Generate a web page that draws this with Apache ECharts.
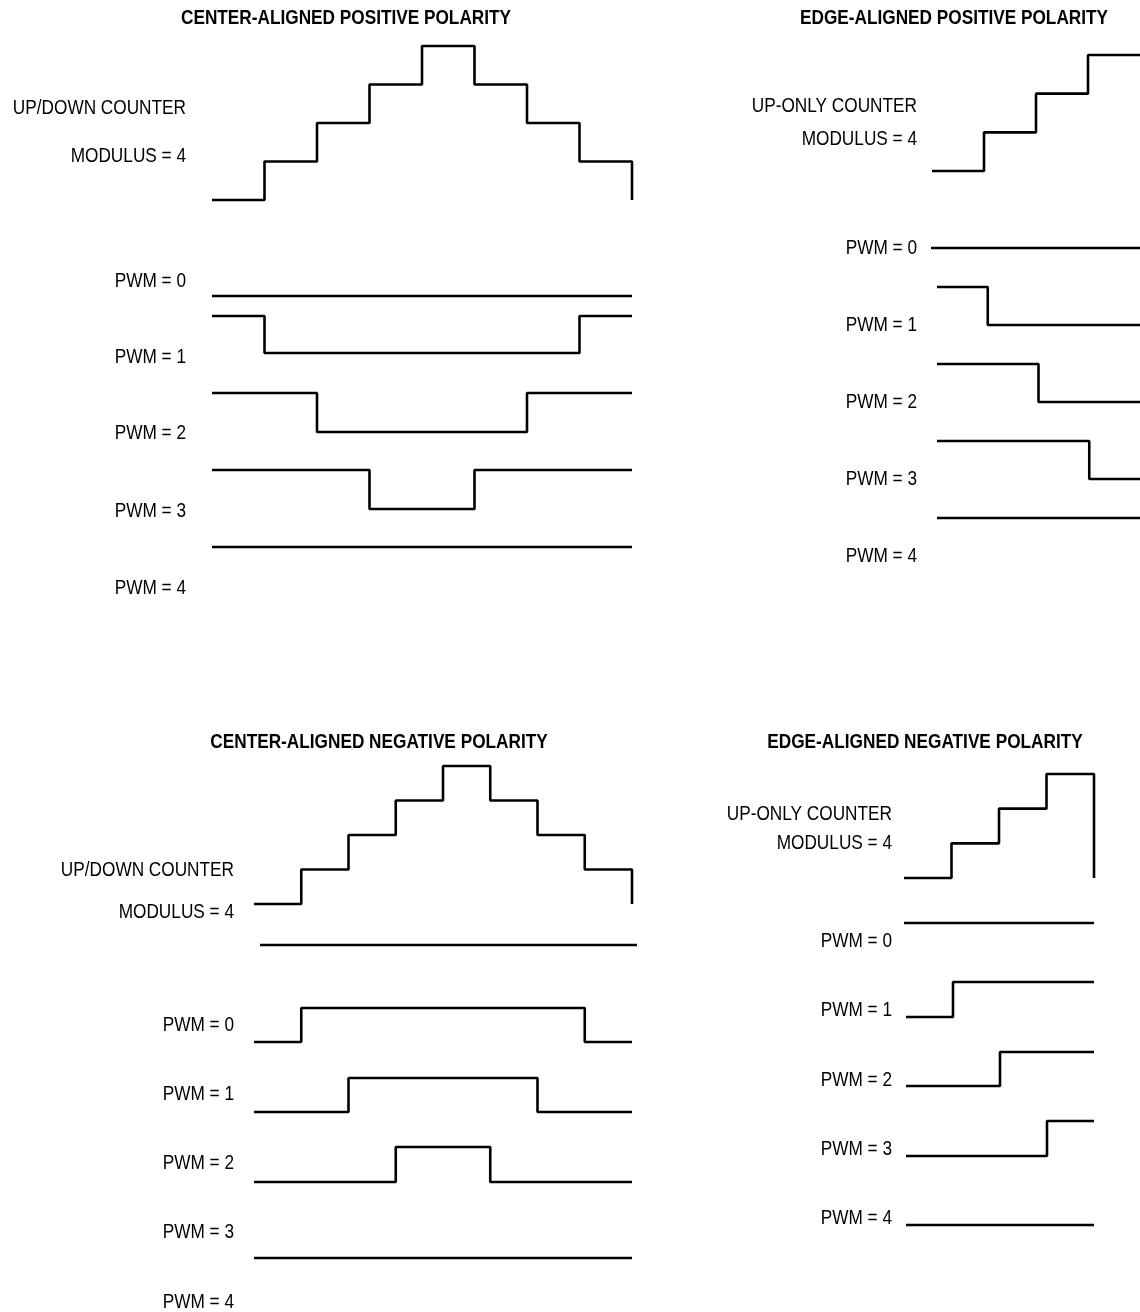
<!DOCTYPE html>
<html>
<head>
<meta charset="utf-8">
<script src="https://cdn.jsdelivr.net/npm/echarts@6/dist/echarts.min.js"></script>
<style>
  html, body { margin: 0; padding: 0; background: #fff; }
  #chart { width: 1140px; height: 1312px; }
</style>
</head>
<body>
<div id="chart"></div>
<script>
// counter level at each slot boundary (last entry = level after the final edge)
var counterCenter = [0, 1, 2, 3, 4, 3, 2, 1, 0];
var counterEdgeUp = [0, 1, 2, 3, 3];
var counterEdgeDown = [0, 1, 2, 3, 0];

// PWM outputs per slot, 1 = high, 0 = low
var centerPositive = [
  [0, 0, 0, 0, 0, 0, 0, 0, 0],
  [1, 0, 0, 0, 0, 0, 0, 1, 1],
  [1, 1, 0, 0, 0, 0, 1, 1, 1],
  [1, 1, 1, 0, 0, 1, 1, 1, 1],
  [1, 1, 1, 1, 1, 1, 1, 1, 1]
];
var edgePositive = [
  [0, 0, 0, 0, 0],
  [1, 0, 0, 0, 0],
  [1, 1, 0, 0, 0],
  [1, 1, 1, 0, 0],
  [1, 1, 1, 1, 1]
];
var centerNegative = [
  [1, 1, 1, 1, 1, 1, 1, 1, 1],
  [0, 1, 1, 1, 1, 1, 1, 0, 0],
  [0, 0, 1, 1, 1, 1, 0, 0, 0],
  [0, 0, 0, 1, 1, 0, 0, 0, 0],
  [0, 0, 0, 0, 0, 0, 0, 0, 0]
];
var edgeNegative = [
  [1, 1, 1, 1, 1],
  [0, 1, 1, 1, 1],
  [0, 0, 1, 1, 1],
  [0, 0, 0, 1, 1],
  [0, 0, 0, 0, 0]
];

var pwmLabels = ['PWM = 0', 'PWM = 1', 'PWM = 2', 'PWM = 3', 'PWM = 4'];
var panelTitles = [
  'CENTER-ALIGNED POSITIVE POLARITY',
  'EDGE-ALIGNED POSITIVE POLARITY',
  'CENTER-ALIGNED NEGATIVE POLARITY',
  'EDGE-ALIGNED NEGATIVE POLARITY'
];
var counterLabels = [
  ['UP/DOWN COUNTER', 'MODULUS = 4'],
  ['UP-ONLY COUNTER', 'MODULUS = 4'],
  ['UP/DOWN COUNTER', 'MODULUS = 4'],
  ['UP-ONLY COUNTER', 'MODULUS = 4']
];

// no narrow font installed: squeeze Liberation Sans horizontally instead
var FONT = "'Liberation Sans', Arial, sans-serif";
var NARROW = 0.82;

// page layout of each panel (pixels)
var panels = [
  {
    counter: counterCenter, rows: centerPositive, max: 4,
    title: [346, 18], labelX: 186, counterLabelY: [108, 156],
    rowLabelY: [281, 357, 433, 511, 588],
    counterBox: [212, 632, 46, 200],
    rowBoxes: [[212, 632, 259, 296], [212, 632, 316, 353], [212, 632, 393, 432], [212, 632, 470, 509], [212, 632, 547, 584]]
  },
  {
    counter: counterEdgeUp, rows: edgePositive, max: 3,
    title: [954, 18], labelX: 917, counterLabelY: [106, 139],
    rowLabelY: [248, 325, 402, 479, 556],
    counterBox: [932, 1140, 55, 171],
    rowBoxes: [[931, 1140, 211, 248], [937, 1140, 287, 325], [937, 1140, 364, 402], [937, 1140, 441, 479], [937, 1140, 518, 556]]
  },
  {
    counter: counterCenter, rows: centerNegative, max: 4,
    title: [379, 742], labelX: 234, counterLabelY: [870, 912],
    rowLabelY: [1025, 1094, 1163, 1232, 1302],
    counterBox: [254, 632, 766, 904],
    rowBoxes: [[260, 637, 945, 980], [254, 632, 1008, 1042], [254, 632, 1078, 1112], [254, 632, 1147, 1182], [254, 632, 1223, 1258]]
  },
  {
    counter: counterEdgeDown, rows: edgeNegative, max: 3,
    title: [925, 742], labelX: 892, counterLabelY: [814, 843],
    rowLabelY: [941, 1010, 1080, 1149, 1218],
    counterBox: [904, 1094, 774, 878],
    rowBoxes: [[904, 1094, 923, 958], [906, 1094, 982, 1017], [906, 1094, 1052, 1086], [906, 1094, 1121, 1156], [906, 1094, 1190, 1225]]
  }
];

var grids = [], xAxes = [], yAxes = [], series = [], texts = [];

function addSignal(values, box, yMax) {
  var idx = grids.length;
  grids.push({ left: box[0], width: box[1] - box[0], top: box[2], height: box[3] - box[2] });
  xAxes.push({ type: 'value', gridIndex: idx, min: 0, max: values.length - 1, show: false });
  yAxes.push({ type: 'value', gridIndex: idx, min: 0, max: yMax, show: false });
  series.push({
    type: 'line',
    xAxisIndex: idx,
    yAxisIndex: idx,
    step: 'end',
    symbol: 'none',
    clip: false,
    silent: true,
    lineStyle: { color: '#000', width: 2.6 },
    data: values.map(function (v, i) { return [i, v]; })
  });
}

function addText(str, x, y, align, bold) {
  texts.push({
    type: 'text',
    x: x,
    y: y,
    scaleX: NARROW,
    silent: true,
    style: {
      text: str,
      fill: '#000',
      fontFamily: FONT,
      fontSize: 21,
      fontWeight: bold ? 'bold' : 'normal',
      align: align,
      verticalAlign: 'middle'
    }
  });
}

panels.forEach(function (p, k) {
  addSignal(p.counter, p.counterBox, p.max);
  p.rows.forEach(function (row, r) {
    addSignal(row, p.rowBoxes[r], 1);
  });
  addText(panelTitles[k], p.title[0], p.title[1], 'center', true);
  addText(counterLabels[k][0], p.labelX, p.counterLabelY[0], 'right', false);
  addText(counterLabels[k][1], p.labelX, p.counterLabelY[1], 'right', false);
  pwmLabels.forEach(function (lab, r) {
    addText(lab, p.labelX, p.rowLabelY[r], 'right', false);
  });
});

var chart = echarts.init(document.getElementById('chart'));
chart.setOption({
  animation: false,
  backgroundColor: '#fff',
  grid: grids,
  xAxis: xAxes,
  yAxis: yAxes,
  series: series,
  graphic: texts
});
</script>
</body>
</html>
